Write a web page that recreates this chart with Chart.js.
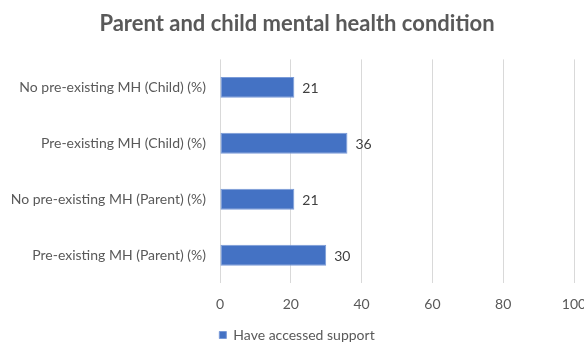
<!DOCTYPE html>
<html>
<head>
<meta charset="utf-8">
<script src="https://cdn.jsdelivr.net/npm/chart.js@4"></script>
<style>
  html, body { margin: 0; padding: 0; background: #fff; }
  #wrap { width: 584px; height: 343px; }
</style>
</head>
<body>
<div id="wrap"><canvas id="chart" width="584" height="343"></canvas></div>
<script>
const categories = [
  'No pre-existing MH (Child) (%)',
  'Pre-existing MH (Child) (%)',
  'No pre-existing MH (Parent) (%)',
  'Pre-existing MH (Parent) (%)'
];
const accessedSupport = [21, 36, 21, 30];
const xTicks = [0, 20, 40, 60, 80, 100];

const grey = '#595959';
const font = 'Lato, "Open Sans", sans-serif';

// value labels just past the end of each bar
const barValues = {
  id: 'barValues',
  afterDatasetsDraw(chart) {
    const ctx = chart.ctx;
    const meta = chart.getDatasetMeta(0);
    ctx.save();
    ctx.font = '14px ' + font;
    ctx.fillStyle = '#404040';
    ctx.textAlign = 'left';
    ctx.textBaseline = 'middle';
    meta.data.forEach((bar, i) => {
      ctx.fillText(String(chart.data.datasets[0].data[i]), bar.x + 8, bar.y + 1);
    });
    ctx.restore();
  }
};

// title and legend sit a little right of the canvas centre
const nudge = {
  id: 'nudge',
  afterLayout(chart) {
    [chart.titleBlock, chart.legend].forEach(box => {
      if (box) { box.left += 8; box.right += 8; }
    });
  }
};

new Chart(document.getElementById('chart'), {
  type: 'bar',
  data: {
    labels: categories,
    datasets: [{
      label: 'Have accessed support',
      data: accessedSupport,
      backgroundColor: '#4472C4',
      borderColor: '#7A9BD8',
      borderWidth: 1,
      borderSkipped: false,
      barPercentage: 0.375,
      categoryPercentage: 1
    }]
  },
  options: {
    indexAxis: 'y',
    responsive: false,
    animation: false,
    layout: { padding: { left: 4, right: 10, top: 0, bottom: -9 } },
    scales: {
      x: {
        min: 0, max: 100,
        afterBuildTicks(scale) { scale.ticks = xTicks.map(v => ({ value: v })); },
        afterFit(scale) { scale.paddingLeft = 0; scale.paddingRight = 0; },
        grid: { color: '#D9D9D9', lineWidth: 1, drawTicks: false },
        border: { display: false },
        ticks: { color: grey, font: { family: font, size: 14 }, padding: 13 }
      },
      y: {
        grid: { display: false, drawTicks: false },
        border: { display: false },
        ticks: { color: grey, font: { family: font, size: 14 }, padding: 14 },
        afterFit(scale) { scale.width = 216; }
      }
    },
    plugins: {
      title: {
        display: true,
        text: 'Parent and child mental health condition',
        color: grey,
        font: { family: font, size: 22, weight: 'bold' },
        padding: { top: 11, bottom: 22 }
      },
      legend: {
        position: 'bottom',
        labels: {
          color: grey,
          font: { family: font, size: 14 },
          boxWidth: 7, boxHeight: 7,
          padding: 2
        }
      },
      tooltip: { enabled: false }
    }
  },
  plugins: [barValues, nudge]
});
</script>
</body>
</html>
